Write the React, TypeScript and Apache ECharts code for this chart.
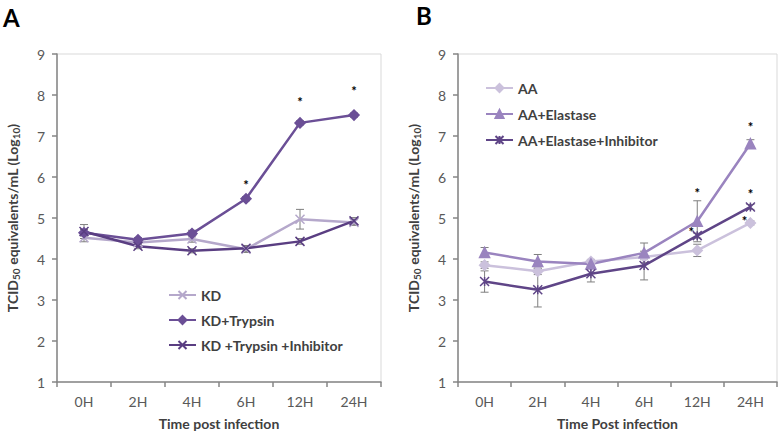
import React, { useEffect, useRef } from "react";
import * as echarts from "echarts";

const CATEGORIES = ["0H", "2H", "4H", "6H", "12H", "24H"];

// Panel A
const KD = [4.52, 4.4, 4.49, 4.24, 4.97, 4.89];
const KD_ERR = [0.1, 0.05, 0.08, 0.08, 0.24, 0.07];
const KD_TRYPSIN = [4.64, 4.47, 4.62, 5.47, 7.32, 7.51];
const KD_TRYPSIN_ERR = [0.08, 0.05, 0.08, 0.05, 0.05, 0.05];
const KD_TRYPSIN_INHIB = [4.67, 4.31, 4.2, 4.26, 4.43, 4.93];
const KD_TRYPSIN_INHIB_ERR = [0.17, 0.06, 0.05, 0.07, 0.07, 0.08];
const STARS_A: [number, number][] = [[3, 5.87], [4, 7.9], [5, 8.16]];

// Panel B
const AA = [3.85, 3.7, 3.94, 4.05, 4.21, 4.88];
const AA_ERR = [0.08, 0.08, 0.05, 0.05, 0.15, 0.05];
const AA_ELASTASE = [4.16, 3.94, 3.88, 4.15, 4.92, 6.81];
const AA_ELASTASE_ERR = [0.12, 0.17, 0.05, 0.24, 0.5, 0.1];
const AA_ELASTASE_INHIB = [3.45, 3.25, 3.64, 3.84, 4.57, 5.27];
const AA_ELASTASE_INHIB_ERR = [0.26, 0.42, 0.2, 0.35, 0.06, 0.06];
const STARS_B: [number, number][] = [[4, 5.69], [5, 7.29], [5, 5.67]];
const STARS_B_SHIFTED: [number, number][] = [[4, 4.72], [5, 5.0]];

const Y_TICKS_MIN = 1;
const Y_TICKS_MAX = 9;

const X_SYMBOL = "path://M0,0L10,10M10,0L0,10";
const STAR_SYMBOL = "path://M0,0L10,10M10,0L0,10M5,0L5,10";

const FONT = "Lato, 'Open Sans', sans-serif";

const C_KD = "#b5a8cb";
const C_KDT = "#6b4f96";
const C_KDTI = "#5a3e82";
const C_AA = "#cbc1dc";
const C_AAE = "#9a84bf";
const C_AAEI = "#5f4587";

function App() {
  const ref = useRef<HTMLDivElement>(null);

  useEffect(() => {
    if (!ref.current) return;
    const chart = echarts.init(ref.current, null, { renderer: "svg" });

    const errSeries = (name: string, vals: number[], errs: number[], gi: number) => ({
      type: "custom",
      name: name + "_err",
      xAxisIndex: gi,
      yAxisIndex: gi,
      silent: true,
      z: 1,
      data: vals.map((v, i) => [i, v, errs[i]]),
      renderItem: (params: any, api: any) => {
        const i = api.value(0);
        const v = api.value(1);
        const e = api.value(2);
        const top = api.coord([i, v + e]);
        const bot = api.coord([i, v - e]);
        const cw = 4;
        const st = { stroke: "#7f7f7f", lineWidth: 1 };
        return {
          type: "group",
          children: [
            { type: "line", shape: { x1: top[0], y1: top[1], x2: bot[0], y2: bot[1] }, style: st },
            { type: "line", shape: { x1: top[0] - cw, y1: top[1], x2: top[0] + cw, y2: top[1] }, style: st },
            { type: "line", shape: { x1: bot[0] - cw, y1: bot[1], x2: bot[0] + cw, y2: bot[1] }, style: st },
          ],
        };
      },
    });

    const starSeries = (data: [number, number][], gi: number, dx: number) => ({
      type: "custom",
      xAxisIndex: gi,
      yAxisIndex: gi,
      silent: true,
      z: 5,
      data,
      renderItem: (params: any, api: any) => {
        const p = api.coord([api.value(0), api.value(1)]);
        return {
          type: "text",
          x: p[0] + dx,
          y: p[1] + 3,
          style: {
            text: "*",
            fill: "#000",
            font: "bold 13px " + FONT,
            align: "center",
            verticalAlign: "middle",
          },
        };
      },
    });

    const lineSeries = (
      name: string,
      vals: number[],
      color: string,
      symbol: string,
      size: number,
      gi: number,
      lw = 2.5
    ) => ({
      type: "line",
      name,
      xAxisIndex: gi,
      yAxisIndex: gi,
      data: vals,
      symbol,
      symbolSize: size,
      z: 3,
      lineStyle: { color, width: lw },
      itemStyle: { color, borderColor: color, borderWidth: 1.5 },
    });

    const yName = "{b|TCID}{s|50}{b| equivalents/mL (Log}{s|10}{b|)}";
    const yNameStyle = {
      rich: {
        b: { fontSize: 14, fontWeight: "bold", color: "#404040", fontFamily: FONT, lineHeight: 17 },
        s: { fontSize: 10, fontWeight: "bold", color: "#404040", fontFamily: FONT, lineHeight: 11, verticalAlign: "bottom" },
      },
    };

    const xAxis = (gi: number, name: string) => ({
      type: "category",
      gridIndex: gi,
      data: CATEGORIES,
      boundaryGap: true,
      name,
      nameLocation: "middle",
      nameGap: 34,
      nameTextStyle: { fontSize: 14, fontWeight: "bold", color: "#404040", fontFamily: FONT },
      axisLine: { lineStyle: { color: "#868686", width: 1.5 } },
      axisTick: { show: true, length: 5, lineStyle: { color: "#868686", width: 1.5 } },
      axisLabel: { color: "#595959", fontSize: 14, fontFamily: FONT, margin: 12 },
      splitLine: { show: false },
    });

    const yAxis = (gi: number) => ({
      type: "value",
      gridIndex: gi,
      min: Y_TICKS_MIN,
      max: Y_TICKS_MAX,
      interval: 1,
      name: yName,
      nameLocation: "middle",
      nameRotate: 90,
      nameGap: 36,
      nameTextStyle: yNameStyle,
      axisLine: { show: true, lineStyle: { color: "#868686", width: 1.5 } },
      axisTick: { show: true, length: 5, lineStyle: { color: "#868686", width: 1.5 } },
      axisLabel: { color: "#595959", fontSize: 14, fontFamily: FONT, margin: 12 },
      splitLine: { show: false },
    });

    const legendText = { fontSize: 14, fontWeight: "bold", color: "#404040", fontFamily: FONT };

    chart.setOption({
      animation: false,
      backgroundColor: "#fff",
      grid: [
        { left: 57, top: 54, width: 324, height: 328, show: true, borderColor: "#d9d9d9", borderWidth: 1, backgroundColor: "transparent" },
        { left: 458, top: 54, width: 319, height: 328, show: true, borderColor: "#d9d9d9", borderWidth: 1, backgroundColor: "transparent" },
      ],
      xAxis: [xAxis(0, "Time post infection"), xAxis(1, "Time Post infection")],
      yAxis: [yAxis(0), yAxis(1)],
      legend: [
        {
          data: ["KD", "KD+Trypsin", "KD +Trypsin +Inhibitor"],
          left: 163,
          top: 283,
          orient: "vertical",
          itemGap: 11,
          itemWidth: 27,
          itemHeight: 10,
          textStyle: legendText,
          selectedMode: false,
        },
        {
          data: ["AA", "AA+Elastase", "AA+Elastase+Inhibitor"],
          left: 480,
          top: 76,
          orient: "vertical",
          itemGap: 12,
          itemWidth: 27,
          itemHeight: 10,
          textStyle: legendText,
          selectedMode: false,
        },
      ],
      graphic: [
        { type: "text", left: 3, top: 5, style: { text: "A", font: "bold 24px " + FONT, fill: "#000" } },
        { type: "text", left: 416, top: 3, style: { text: "B", font: "bold 24px " + FONT, fill: "#000" } },
      ],
      series: [
        errSeries("KD", KD, KD_ERR, 0),
        errSeries("KD+Trypsin", KD_TRYPSIN, KD_TRYPSIN_ERR, 0),
        errSeries("KD +Trypsin +Inhibitor", KD_TRYPSIN_INHIB, KD_TRYPSIN_INHIB_ERR, 0),
        lineSeries("KD", KD, C_KD, X_SYMBOL, 9, 0),
        lineSeries("KD+Trypsin", KD_TRYPSIN, C_KDT, "diamond", 10, 0),
        lineSeries("KD +Trypsin +Inhibitor", KD_TRYPSIN_INHIB, C_KDTI, X_SYMBOL, 9, 0),
        starSeries(STARS_A, 0, 0),

        errSeries("AA", AA, AA_ERR, 1),
        errSeries("AA+Elastase", AA_ELASTASE, AA_ELASTASE_ERR, 1),
        errSeries("AA+Elastase+Inhibitor", AA_ELASTASE_INHIB, AA_ELASTASE_INHIB_ERR, 1),
        lineSeries("AA", AA, C_AA, "diamond", 10, 1),
        lineSeries("AA+Elastase", AA_ELASTASE, C_AAE, "triangle", 10, 1),
        lineSeries("AA+Elastase+Inhibitor", AA_ELASTASE_INHIB, C_AAEI, STAR_SYMBOL, 9, 1),
        starSeries(STARS_B, 1, 0),
        starSeries(STARS_B_SHIFTED, 1, -6),
      ],
    });

    return () => chart.dispose();
  }, []);

  return <div ref={ref} style={{ width: 781, height: 435, position: "absolute", left: 0, top: 0 }} />;
}

export default App;
